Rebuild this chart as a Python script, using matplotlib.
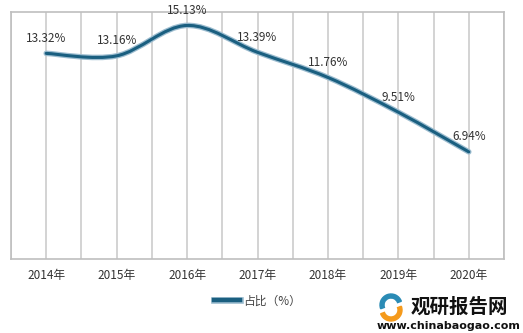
import numpy as np
import matplotlib.pyplot as plt
import matplotlib.patheffects as pe
from matplotlib.path import Path
from matplotlib.patches import PathPatch, Wedge

plt.rcParams['font.family'] = ['Noto Sans CJK SC', 'DejaVu Sans']

years = ['2014年', '2015年', '2016年', '2017年', '2018年', '2019年', '2020年']
share = [13.32, 13.16, 15.13, 13.39, 11.76, 9.51, 6.94]
labels = ['13.32%', '13.16%', '15.13%', '13.39%', '11.76%', '9.51%', '6.94%']

fig = plt.figure(figsize=(5.23, 3.33), dpi=100)
ax = fig.add_axes([11 / 523, 1 - 259 / 333, 493 / 523, 247 / 333])

x = np.arange(len(years))
y = np.array(share)

# smooth curve like Excel (Catmull-Rom turned into bezier segments)
verts = [(x[0], y[0])]
codes = [Path.MOVETO]
n = len(x)
for i in range(n - 1):
    p0 = np.array([x[max(i - 1, 0)], y[max(i - 1, 0)]])
    p1 = np.array([x[i], y[i]])
    p2 = np.array([x[i + 1], y[i + 1]])
    p3 = np.array([x[min(i + 2, n - 1)], y[min(i + 2, n - 1)]])
    c1 = p1 + (p2 - p0) / 6
    c2 = p2 - (p3 - p1) / 6
    verts += [tuple(c1), tuple(c2), tuple(p2)]
    codes += [Path.CURVE4] * 3
curve = Path(verts, codes)

ax.add_patch(PathPatch(curve, fill=False, edgecolor='#9dbdd0', lw=4.0,
                       capstyle='round', zorder=3))
ax.add_patch(PathPatch(curve, fill=False, edgecolor='#1a5f80', lw=2.2,
                       capstyle='round', zorder=4))
ax.plot([], [], color='#1a5f80', lw=3.2, label='占比（%）',
        path_effects=[pe.withStroke(linewidth=4.8, foreground='#9dbdd0')])

for xi, yi, lab in zip(x, y, labels):
    ax.text(xi, yi + 0.55, lab, ha='center', va='bottom', fontsize=8.5, color='#333333')

ax.set_xlim(-0.5, len(years) - 0.5)
ax.set_ylim(0, 16)
ax.set_xticks(x)
ax.set_xticklabels(years, fontsize=8.5, color='#333333')
ax.set_xticks(np.arange(-0.5, len(years), 1.0), minor=True)
ax.grid(True, axis='x', which='both', color='#cccccc', lw=1.2)
ax.tick_params(axis='x', which='both', length=0, pad=7)
ax.set_yticks([])
for s in ax.spines.values():
    s.set_color('#bfbfbf')
    s.set_linewidth(1.2)

ax.legend(loc='upper center', bbox_to_anchor=(0.5, -0.1), frameon=False,
          fontsize=8.5, handlelength=2.2, handletextpad=0.2,
          labelcolor='#444444')

# watermark
lax = fig.add_axes([375 / 523, 0, 148 / 523, 50 / 333])
lax.set_xlim(0, 148)
lax.set_ylim(0, 50)
lax.axis('off')
lax.add_patch(Wedge((16, 28), 11, 20, 200, width=4, color='#2a8bb5'))
lax.add_patch(Wedge((16, 23), 11, 200, 380, width=4, color='#f59a1b'))
lax.text(36, 26, '观研报告网', fontsize=14, fontweight='bold', color='#111111',
         va='center', ha='left')
lax.text(2, 7, 'www.chinabaogao.com', fontsize=8, fontweight='bold',
         color='#111111', va='center', ha='left', family='DejaVu Sans')

fig.savefig('out.png', dpi=100)
